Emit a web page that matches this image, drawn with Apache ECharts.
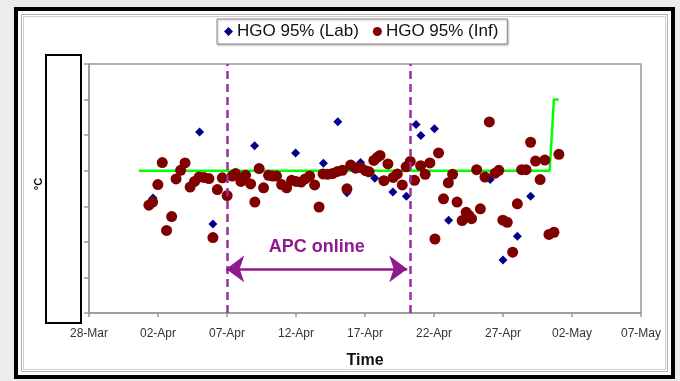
<!DOCTYPE html>
<html>
<head>
<meta charset="utf-8">
<script src="https://cdn.jsdelivr.net/npm/echarts@6/dist/echarts.min.js"></script>
<style>
html,body{margin:0;padding:0;background:#ececec;}
#chart{width:680px;height:381px;}
</style>
</head>
<body>
<div id="chart"></div>
<script>
// x = days after 28-Mar
var tickLabels = ['28-Mar','02-Apr','07-Apr','12-Apr','17-Apr','22-Apr','27-Apr','02-May','07-May'];
var labDays = [4.64,8.01,8.98,12.0,14.97,16.99,18.03,18.69,19.68,20.71,22.02,23.0,23.70,24.05,25.03,26.06,29.07,30.0,31.04,32.0];
var labVals = [3.23,5.09,2.50,4.70,4.50,4.21,5.38,3.38,4.23,3.79,3.40,3.28,5.30,4.99,5.18,2.61,3.75,1.49,2.16,3.28];
var infDays = [4.34,4.61,4.99,5.31,5.62,5.99,6.31,6.64,6.96,7.33,7.65,7.98,8.33,8.69,8.98,9.30,9.66,10.01,10.38,10.62,
  11.01,11.35,11.71,12.02,12.33,12.65,13.01,13.30,13.59,13.96,14.32,14.68,15.01,15.37,15.66,15.99,16.35,16.67,16.96,17.29,
  17.65,18.01,18.36,18.69,18.96,19.32,19.68,20.04,20.30,20.64,20.90,21.09,21.37,21.66,22.04,22.34,22.70,22.98,23.28,23.59,
  24.03,24.36,24.70,25.07,25.33,25.69,26.04,26.35,26.67,27.04,27.33,27.54,27.72,28.09,28.36,28.69,29.01,29.43,29.70,29.99,
  30.31,30.70,31.04,31.35,31.67,32.00,32.36,32.69,33.03,33.33,33.69,34.05];
var infVals = [3.03,3.12,3.61,4.23,2.32,2.71,3.77,4.01,4.22,3.54,3.70,3.82,3.81,3.78,2.12,3.47,3.80,3.30,3.85,3.92,
  3.70,3.87,3.63,3.12,4.06,3.52,3.87,3.85,3.85,3.61,3.52,3.73,3.70,3.68,3.77,3.85,3.60,2.98,3.91,3.90,
  3.92,3.98,4.01,3.49,4.16,4.07,4.09,4.00,3.97,4.29,4.38,4.43,3.72,4.19,3.81,3.91,3.60,4.11,4.26,3.73,
  4.14,3.90,4.22,2.08,4.50,3.21,3.66,3.90,3.12,2.60,2.83,2.74,2.65,4.03,2.93,3.82,5.37,3.93,4.01,2.61,
  2.55,1.71,3.07,4.03,4.03,4.80,4.27,3.75,4.30,2.21,2.27,4.46];
var limitDays = [3.62,33.38,33.69,34.03];
var limitVals = [4,4,6,6];
var apcStart = 10, apcEnd = 23.3;
var arrowStart = 9.94, arrowEnd = 23.06, arrowLevel = 1.24;

function pairs(xs, ys){ return xs.map(function(x,i){ return [x, ys[i]]; }); }

var FONT = 'Liberation Sans, Arial, sans-serif';
var chart = echarts.init(document.getElementById('chart'));
chart.setOption({
  backgroundColor: '#ececec',
  animation: false,
  textStyle: {fontFamily: FONT},
  graphic: [
    {type:'rect', z:-10, shape:{x:16,y:9,width:657,height:368}, style:{fill:'#fff', stroke:'#000', lineWidth:4}},
    {type:'rect', z:-9, shape:{x:21.5,y:14.5,width:646,height:357}, style:{fill:'none', stroke:'#b0b0b0', lineWidth:1}},
    {type:'rect', z:-9, shape:{x:23.5,y:16.5,width:642,height:353}, style:{fill:'none', stroke:'#d0d0d0', lineWidth:1}},
    {type:'rect', z:100, shape:{x:46,y:55,width:35,height:268}, style:{fill:'#fff', stroke:'#000', lineWidth:2}},
    {type:'text', z:100, x:39, y:184, rotation:Math.PI/2, style:{text:'°C', font:'bold 11px '+FONT, fill:'#000', textAlign:'center', textVerticalAlign:'middle'}}
  ],
  legend: {
    data: [
      {name:'HGO 95% (Lab)', icon:'diamond'},
      {name:'HGO 95% (Inf)', icon:'circle'}
    ],
    left: 217, top: 19,
    padding: [4, 9, 4, 7],
    itemWidth: 9, itemHeight: 9, itemGap: 14,
    borderColor: '#888', borderWidth: 1,
    backgroundColor: '#fff',
    shadowColor: 'rgba(0,0,0,0.25)', shadowBlur: 2, shadowOffsetX: 1, shadowOffsetY: 1,
    textStyle: {fontSize: 17, color: '#111', fontFamily: FONT, padding:[0,0,0,-1]}
  },
  grid: {left: 89, right: 39, top: 64, bottom: 68, show: true, borderColor: '#999', borderWidth: 1.5, backgroundColor:'#fff'},
  xAxis: {
    type: 'value', min: 0, max: 40, interval: 5,
    axisLine: {show:true, lineStyle:{color:'#999', width:1.5}},
    axisTick: {show:true, length:4, lineStyle:{color:'#999', width:1.5}},
    splitLine: {show:false},
    axisLabel: {margin: 15, fontSize: 12, color: '#333', fontFamily: FONT, formatter: function(v){ return tickLabels[Math.round(v/5)]; }},
    name: 'Time', nameLocation: 'middle', nameGap: 40,
    nameTextStyle: {fontSize: 16, fontWeight: 'bold', color: '#111', fontFamily: FONT}
  },
  yAxis: {
    type: 'value', min: 0, max: 7, interval: 1,
    axisLine: {show:true, lineStyle:{color:'#999', width:1.5}},
    axisTick: {show:true, length:5, lineStyle:{color:'#999', width:1.5}},
    splitLine: {show:false},
    axisLabel: {show:false}
  },
  series: [
    {
      name: 'limit', type: 'line', data: pairs(limitDays, limitVals),
      symbol: 'none', lineStyle: {color:'#00ff00', width: 2.5}, z: 1, silent: true
    },
    {
      name: 'HGO 95% (Lab)', type: 'scatter', data: pairs(labDays, labVals),
      symbol: 'diamond', symbolSize: 9, itemStyle: {color:'#00008b', opacity: 1}, z: 2
    },
    {
      name: 'HGO 95% (Inf)', type: 'scatter', data: pairs(infDays, infVals),
      symbol: 'circle', symbolSize: 11, itemStyle: {color:'#800000', opacity: 1}, z: 3
    },
    {
      name: 'events', type: 'line', data: [], z: 5, silent: true,
      markLine: {
        silent: true, animation: false,
        symbol: ['none','none'],
        label: {show:false},
        lineStyle: {color:'#9b2ea0', width: 2.5, type: [8, 5]},
        data: [{xAxis: apcStart}, {xAxis: apcEnd}]
      }
    },
    {
      name: 'apc', type: 'line', data: [], z: 6, silent: true,
      markLine: {
        silent: true, animation: false,
        symbol: ['arrow','arrow'], symbolSize: [20, 18],
        lineStyle: {color:'#8e1a8e', width: 2.5, type:'solid'},
        label: {show:true, position:'middle', formatter:'APC online', distance: 13,
                color:'#8e1a8e', fontSize: 18, fontWeight:'bold', fontFamily: FONT},
        data: [[{coord:[arrowStart, arrowLevel]}, {coord:[arrowEnd, arrowLevel]}]]
      }
    }
  ]
});
</script>
</body>
</html>
